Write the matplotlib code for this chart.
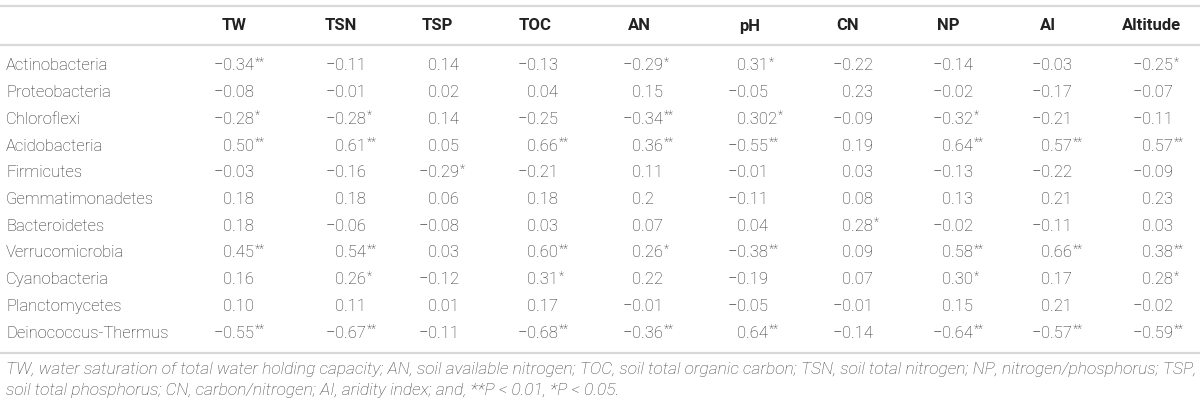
import matplotlib
matplotlib.use("Agg")
import matplotlib.pyplot as plt
from matplotlib import font_manager

# ---- table content ----------------------------------------------------
columns = ["TW", "TSN", "TSP", "TOC", "AN", "pH", "CN", "NP", "AI", "Altitude"]

phyla = ["Actinobacteria", "Proteobacteria", "Chloroflexi", "Acidobacteria",
         "Firmicutes", "Gemmatimonadetes", "Bacteroidetes", "Verrucomicrobia",
         "Cyanobacteria", "Planctomycetes", "Deinococcus-Thermus"]

actinobacteria = ["-0.34**", "-0.11", "0.14", "-0.13", "-0.29*", "0.31*", "-0.22", "-0.14", "-0.03", "-0.25*"]
proteobacteria = ["-0.08", "-0.01", "0.02", "0.04", "0.15", "-0.05", "0.23", "-0.02", "-0.17", "-0.07"]
chloroflexi = ["-0.28*", "-0.28*", "0.14", "-0.25", "-0.34**", "0.302*", "-0.09", "-0.32*", "-0.21", "-0.11"]
acidobacteria = ["0.50**", "0.61**", "0.05", "0.66**", "0.36**", "-0.55**", "0.19", "0.64**", "0.57**", "0.57**"]
firmicutes = ["-0.03", "-0.16", "-0.29*", "-0.21", "0.11", "-0.01", "0.03", "-0.13", "-0.22", "-0.09"]
gemmatimonadetes = ["0.18", "0.18", "0.06", "0.18", "0.2", "-0.11", "0.08", "0.13", "0.21", "0.23"]
bacteroidetes = ["0.18", "-0.06", "-0.08", "0.03", "0.07", "0.04", "0.28*", "-0.02", "-0.11", "0.03"]
verrucomicrobia = ["0.45**", "0.54**", "0.03", "0.60**", "0.26*", "-0.38**", "0.09", "0.58**", "0.66**", "0.38**"]
cyanobacteria = ["0.16", "0.26*", "-0.12", "0.31*", "0.22", "-0.19", "0.07", "0.30*", "0.17", "0.28*"]
planctomycetes = ["0.10", "0.11", "0.01", "0.17", "-0.01", "-0.05", "-0.01", "0.15", "0.21", "-0.02"]
deinococcus = ["-0.55**", "-0.67**", "-0.11", "-0.68**", "-0.36**", "0.64**", "-0.14", "-0.64**", "-0.57**", "-0.59**"]

rows = [actinobacteria, proteobacteria, chloroflexi, acidobacteria, firmicutes,
        gemmatimonadetes, bacteroidetes, verrucomicrobia, cyanobacteria,
        planctomycetes, deinococcus]

footnote = ("TW, water saturation of total water holding capacity; AN, soil available nitrogen; "
            "TOC, soil total organic carbon; TSN, soil total nitrogen; NP, nitrogen/phosphorus; TSP,\n"
            "soil total phosphorus; CN, carbon/nitrogen; AI, aridity index; and, **P < 0.01, *P < 0.05.")

# ---- layout (pixel units) ---------------------------------------------
W, H = 1200, 405
head_x = [234, 341, 437, 535, 639, 750, 848, 948, 1048, 1152]
digit_x = [223, 335, 428, 527, 632, 737, 842, 942, 1041, 1142]
head_y = 26
row_y0, row_dy = 66, 26.7
label_x = 6

family = ["Roboto", "DejaVu Sans"]
names = {f.name for f in font_manager.fontManager.ttflist}
weight = "light" if "Roboto" in names else "normal"
txt_color = "#2b2b2b"
line_color = "#d8d8d8"
fs = 12

fig = plt.figure(figsize=(W / 100, H / 100), dpi=100)
ax = fig.add_axes([0, 0, 1, 1])
ax.set_xlim(0, W)
ax.set_ylim(H, 0)
ax.axis("off")

for y in (6, 45, 353):
    ax.plot([0, W], [y, y], color=line_color, lw=1.6, solid_capstyle="butt")

for name, x in zip(columns, head_x):
    ax.text(x, head_y, name, ha="center", va="center", fontsize=fs,
            fontweight="bold", family=family, color="#222222")

fig.canvas.draw()
renderer = fig.canvas.get_renderer()
inv = ax.transData.inverted()

for i, (phylum, vals) in enumerate(zip(phyla, rows)):
    y = row_y0 + i * row_dy
    ax.text(label_x, y, phylum, ha="left", va="center", fontsize=fs,
            fontweight=weight, family=family, color=txt_color)
    for x, v in zip(digit_x, vals):
        stars = v.count("*")
        num = v.rstrip("*")
        if num.startswith("-"):
            ax.text(x + 0.5, y, "\u2212", ha="right", va="center", fontsize=fs,
                    fontweight=weight, family=family, color=txt_color)
            num = num[1:]
        t = ax.text(x, y, num, ha="left", va="center", fontsize=fs,
                    fontweight=weight, family=family, color=txt_color)
        if stars:
            bb = t.get_window_extent(renderer)
            x_end = inv.transform((bb.x1, bb.y1))[0]
            ax.text(x_end + 0.5, y - 3.5, "*" * stars, ha="left", va="center",
                    fontsize=fs * 0.72, fontweight=weight, family=family,
                    color=txt_color)

ax.text(label_x, 380, footnote, ha="left", va="center", fontsize=12.5,
        style="italic", fontweight=weight, family=family, color="#444444",
        linespacing=1.5)

fig.savefig("out.png", dpi=100)
